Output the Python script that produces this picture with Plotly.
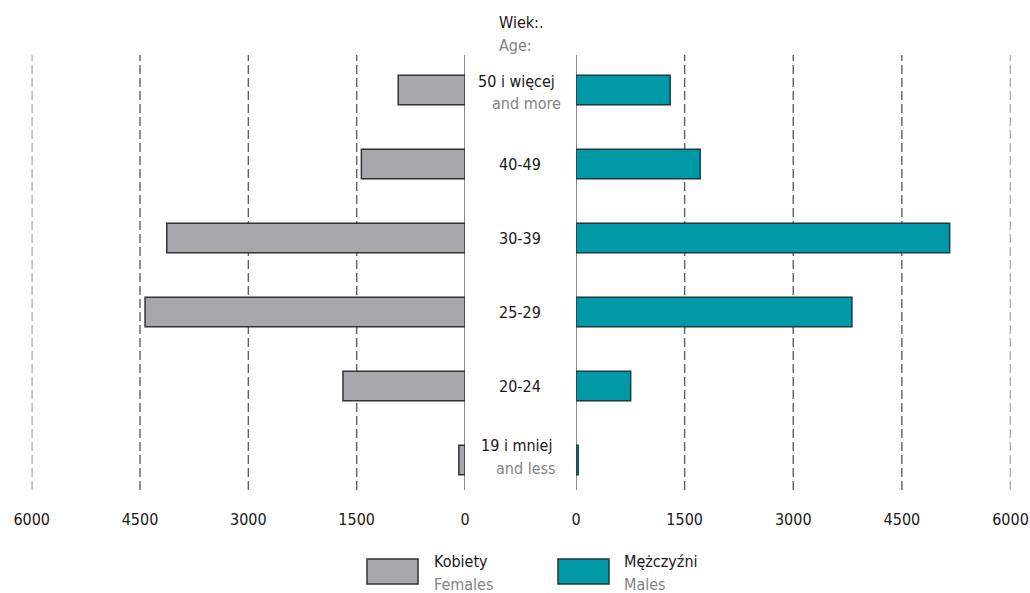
import plotly.graph_objects as go

# Age groups, bottom to top
age_pl = ["19 i mniej", "20-24", "25-29", "30-39", "40-49", "50 i więcej"]
age_en = ["and less", "", "", "", "", "and more"]
females = [85, 1690, 4430, 4130, 1435, 925]
males = [30, 755, 3810, 5160, 1715, 1300]

tick_vals = [0, 1500, 3000, 4500, 6000]
tick_text = ["0", "1500", "3000", "4500", "6000"]

W, H = 1030, 593
FONT = "Liberation Sans Narrow, DejaVu Sans Condensed, Arial Narrow, sans-serif"
FS = 16
DARK = "#1a1718"
GREY = "#838385"
F_COL = "#a7a8ab"
M_COL = "#0099a8"


def px(x):
    return x / W


def py(y):
    return 1 - y / H


fig = go.Figure()

fig.add_trace(go.Bar(
    y=list(range(len(age_pl))), x=females, orientation="h",
    xaxis="x", yaxis="y", width=0.4,
    marker=dict(color=F_COL, line=dict(color="#333333", width=1.5)),
    showlegend=False, hoverinfo="x",
))
fig.add_trace(go.Bar(
    y=list(range(len(age_pl))), x=males, orientation="h",
    xaxis="x2", yaxis="y", width=0.4,
    marker=dict(color=M_COL, line=dict(color="#1f3a3d", width=1.5)),
    showlegend=False, hoverinfo="x",
))

shapes = []
y_lo, y_hi = -0.405, 5.473
for ax in ("x", "x2"):
    for v in tick_vals:
        if v == 0:
            shapes.append(dict(type="line", xref=ax, yref="y", x0=v, x1=v,
                               y0=y_lo, y1=y_hi, layer="below",
                               line=dict(color="#8a8a8a", width=2)))
        else:
            shapes.append(dict(type="line", xref=ax, yref="y", x0=v, x1=v,
                               y0=y_lo, y1=y_hi, layer="below",
                               line=dict(color="#5f6063", width=1.4,
                                         dash="9px,4px")))

# legend swatches
shapes.append(dict(type="rect", xref="paper", yref="paper",
                   x0=px(367), x1=px(418), y0=py(584), y1=py(559),
                   fillcolor=F_COL, line=dict(color="#333333", width=1.5)))
shapes.append(dict(type="rect", xref="paper", yref="paper",
                   x0=px(558), x1=px(609), y0=py(584), y1=py(559),
                   fillcolor=M_COL, line=dict(color="#1f3a3d", width=1.5)))


def label(x, y, text, color, xanchor="center", yref="paper"):
    return dict(x=x, y=y, xref="paper", yref=yref, text=text, showarrow=False,
                xanchor=xanchor, yanchor="middle",
                font=dict(size=FS, color=color, family=FONT))


annotations = []
cx = px(520)
for i, (pl, en) in enumerate(zip(age_pl, age_en)):
    if en:
        if i == 0:
            dy_pl, dy_en, x_en = 0.2, -0.11, 558
        else:
            dy_pl, dy_en, x_en = 0.11, -0.185, 563
        annotations.append(label(cx - px(4), i + dy_pl, pl, DARK, yref="y"))
        annotations.append(label(px(x_en), i + dy_en, en, GREY,
                                 xanchor="right", yref="y"))
    else:
        annotations.append(label(cx, i, pl, DARK, yref="y"))

annotations.append(label(px(521), py(22), "Wiek:.", DARK))
annotations.append(label(px(515), py(46), "Age:", GREY))

# legend labels
for x0, top, bottom in ((432, "Kobiety", "Females"), (622, "Mężczyźni", "Males")):
    annotations.append(label(px(x0), py(561), top, DARK, xanchor="left"))
    annotations.append(label(px(x0), py(584), bottom, GREY, xanchor="left"))

axis_common = dict(
    tickvals=tick_vals, ticktext=tick_text, showgrid=False, zeroline=False,
    showline=False, ticks="", anchor="y", automargin=False,
    ticklabelstandoff=11,
    tickfont=dict(size=FS, color=DARK, family=FONT),
)

fig.update_layout(
    width=W, height=H,
    margin=dict(l=0, r=0, t=0, b=0),
    paper_bgcolor="white", plot_bgcolor="white",
    barmode="overlay",
    xaxis=dict(domain=[px(31.7), px(465)], range=[6000, 0], **axis_common),
    xaxis2=dict(domain=[px(576), px(1010.5)], range=[0, 6000], **axis_common),
    yaxis=dict(domain=[py(497), py(53)], range=[-0.5, 5.5], visible=False,
               automargin=False),
    shapes=shapes,
    annotations=annotations,
)

fig.write_html("out.html")
